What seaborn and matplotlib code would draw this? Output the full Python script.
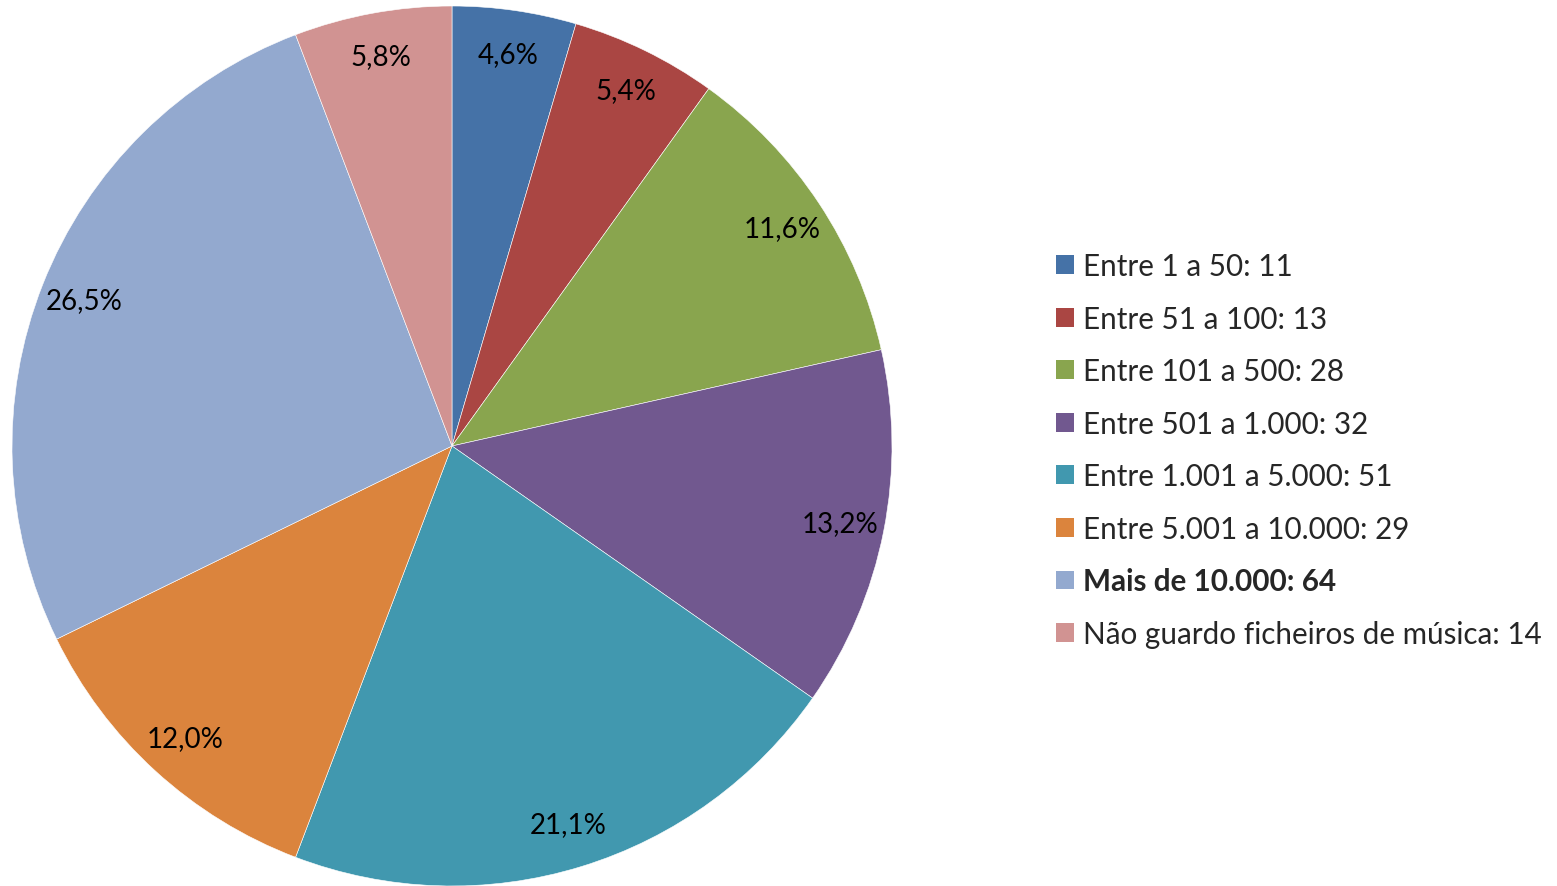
import matplotlib
matplotlib.use('Agg')
import matplotlib.pyplot as plt
import seaborn as sns
from matplotlib.patches import Patch

# dados
categorias = ['Entre 1 a 50', 'Entre 51 a 100', 'Entre 101 a 500', 'Entre 501 a 1.000',
              'Entre 1.001 a 5.000', 'Entre 5.001 a 10.000', 'Mais de 10.000',
              'Não guardo ficheiros de música']
valores = [11, 13, 28, 32, 51, 29, 64, 14]
percentagens = ['4,6%', '5,4%', '11,6%', '13,2%', '21,1%', '12,0%', '26,5%', '5,8%']
cores = ['#4572A7', '#AA4643', '#89A54E', '#71588F', '#4198AF', '#DB843D', '#93A9CF', '#D19392']

sns.set_theme(style='white')
plt.rcParams['font.family'] = ['Lato', 'DejaVu Sans']

fig = plt.figure(figsize=(15.57, 8.87), dpi=100)
ax = fig.add_axes([12 / 1557, 0.0, 880 / 1557, 880 / 887])

wedges, texts = ax.pie(valores, colors=sns.color_palette(cores), startangle=90,
                       counterclock=False, labels=percentagens, labeldistance=0.9,
                       wedgeprops=dict(edgecolor='white', linewidth=0.4),
                       textprops=dict(fontsize=20, color='black'))
for t in texts:
    t.set_horizontalalignment('center')
    t.set_verticalalignment('center')
ax.set_xlim(-1.0, 1.0)
ax.set_ylim(-1.0, 1.0)
ax.set_aspect('equal')

# legenda
handles = [Patch(facecolor=c, edgecolor='none') for c in cores]
labels = [f'{c}: {v}' for c, v in zip(categorias, valores)]
leg = fig.legend(handles, labels, loc='upper left', bbox_to_anchor=(1056 / 1557, 1 - 253 / 887),
                 frameon=False, fontsize=21.3, handlelength=0.6, handleheight=0.6,
                 handletextpad=0.3, labelspacing=0.83, borderaxespad=0, borderpad=0)
for txt in leg.get_texts():
    if txt.get_text().startswith('Mais'):
        txt.set_fontweight('bold')

fig.savefig('out.png', dpi=100)
